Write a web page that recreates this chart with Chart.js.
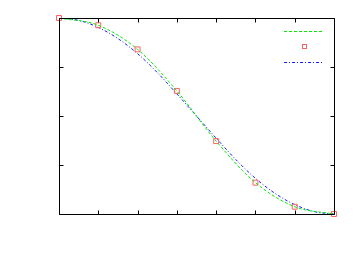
<!DOCTYPE html>
<html>
<head>
<meta charset="utf-8">
<script src="https://cdn.jsdelivr.net/npm/chart.js@4/dist/chart.umd.min.js"></script>
<style>
    html, body { margin: 0; padding: 0; background: #fff; }
    #wrap { width: 361px; height: 256px; }
</style>
</head>
<body>
<div id="wrap"><canvas id="curveChart"></canvas></div>
<script>
// sample positions and measured values (the red squares)
const steps = [0, 1, 2, 3, 4, 5, 6, 7];
const measured = [1, 0.963, 0.84, 0.628, 0.372, 0.16, 0.037, 0];

// the blue dash-dot curve, read at half steps
const fitX = [0, 0.5, 1, 1.5, 2, 2.5, 3, 3.5, 4, 4.5, 5, 5.5, 6, 6.5, 7];
const fitY = [1, 0.988, 0.952, 0.895, 0.818, 0.722, 0.613, 0.5, 0.387, 0.278, 0.182, 0.105, 0.048, 0.012, 0];

// tick positions
const xTicks = [0, 1, 2, 3, 4, 5, 6, 7];
const yTicks = [0, 0.25, 0.5, 0.75, 1];

const GREEN = '#00ee00';
const RED = '#ff6060';
const BLUE = '#1a1aff';

function toPoints(xs, ys) {
    return xs.map((x, i) => ({ x: x, y: ys[i] }));
}

const framePlugin = {
    id: 'frame',
    afterDraw(chart) {
        /**
         * border with inward ticks on all four sides, plus key samples
         */
        const ctx = chart.ctx;
        const a = chart.chartArea;
        const xs = chart.scales.x;
        const ys = chart.scales.y;
        const L = Math.round(a.left) + 0.5, R = Math.round(a.right) + 0.5;
        const T = Math.round(a.top) + 0.5, B = Math.round(a.bottom) + 0.5;

        ctx.save();
        ctx.strokeStyle = '#000';
        ctx.lineWidth = 1;
        ctx.setLineDash([]);
        ctx.beginPath();
        ctx.rect(L, T, R - L, B - T);

        xTicks.forEach(v => {
            const px = Math.round(xs.getPixelForValue(v)) + 0.5;
            ctx.moveTo(px, B); ctx.lineTo(px, B - 4);
            ctx.moveTo(px, T); ctx.lineTo(px, T + 4);
        });
        yTicks.forEach(v => {
            const py = Math.round(ys.getPixelForValue(v)) + 0.5;
            ctx.moveTo(L, py); ctx.lineTo(L + 4, py);
            ctx.moveTo(R, py); ctx.lineTo(R - 4, py);
        });
        ctx.stroke();

        // key samples, top right
        ctx.lineWidth = 1;
        ctx.strokeStyle = GREEN;
        ctx.setLineDash([3, 2]);
        ctx.beginPath();
        ctx.moveTo(284, 31.5); ctx.lineTo(324, 31.5);
        ctx.stroke();

        ctx.setLineDash([]);
        ctx.strokeStyle = RED;
        ctx.strokeRect(302.5, 44.5, 4, 4);

        ctx.strokeStyle = BLUE;
        ctx.setLineDash([3, 2, 1, 2]);
        ctx.beginPath();
        ctx.moveTo(284, 62.5); ctx.lineTo(324, 62.5);
        ctx.stroke();
        ctx.restore();
    }
};

function main() {
    const ctx = document.getElementById('curveChart').getContext('2d');
    new Chart(ctx, {
        type: 'scatter',
        data: {
            datasets: [
                {
                    label: 'spline',
                    data: toPoints(steps, measured),
                    showLine: true,
                    borderColor: GREEN,
                    borderWidth: 1,
                    borderDash: [3, 2],
                    cubicInterpolationMode: 'monotone',
                    pointRadius: 0,
                    fill: false,
                },
                {
                    label: 'data',
                    data: toPoints(steps, measured),
                    showLine: false,
                    pointStyle: 'rect',
                    pointRadius: 3.5,
                    borderColor: RED,
                    backgroundColor: 'rgba(0,0,0,0)',
                    pointBorderWidth: 1,
                    clip: false,
                },
                {
                    label: 'fit',
                    data: toPoints(fitX, fitY),
                    showLine: true,
                    borderColor: BLUE,
                    borderWidth: 1,
                    borderDash: [3, 2, 1, 2],
                    cubicInterpolationMode: 'monotone',
                    pointRadius: 0,
                    fill: false,
                },
            ],
        },
        options: {
            responsive: true,
            maintainAspectRatio: false,
            animation: false,
            layout: { padding: { left: 59, right: 27, top: 18, bottom: 42 } },
            plugins: {
                legend: { display: false },
                tooltip: { enabled: false },
            },
            scales: {
                x: { type: 'linear', min: 0, max: 7, display: false },
                y: { type: 'linear', min: 0, max: 1, display: false },
            },
        },
        plugins: [framePlugin],
    });
}

document.addEventListener("DOMContentLoaded", () => {
    main();
})
</script>
</body>
</html>
